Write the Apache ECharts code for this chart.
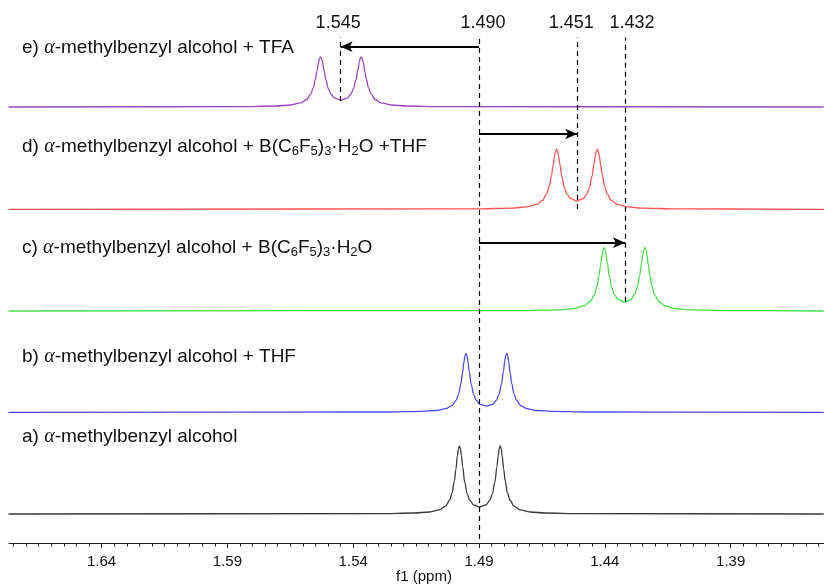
<!DOCTYPE html>
<html><head><meta charset="utf-8">
<script src="https://cdn.jsdelivr.net/npm/echarts@6/dist/echarts.min.js"></script>
<style>html,body{margin:0;padding:0;background:#fff}#c{width:824px;height:586px}</style>
</head><body><div id="c"></div>
<script>
// ---- data (ppm, intensity a.u.) ----
const ppmA = [1.677,1.5297,1.5157,1.5097,1.5057,1.5033,1.5017,1.5007,1.4998,1.4992,1.4986,1.4982,1.4978,1.4974,1.4970,1.4965,1.4957,1.4947,1.4937,1.4922,1.4897,1.4872,1.4857,1.4847,1.4837,1.4829,1.4824,1.4820,1.4816,1.4812,1.4808,1.4802,1.4796,1.4787,1.4777,1.4761,1.4737,1.4697,1.4637,1.4497,1.353];
const intA = [0,0.3,1.0,2.0,4.2,7.9,13.8,21.2,33.1,44.7,58.1,65.2,68.0,65.3,58.3,47.2,31.9,20.1,13.8,9.2,7.2,9.2,13.8,20.1,31.9,47.2,58.3,65.3,68.0,65.2,58.1,44.7,33.1,21.2,13.8,7.9,4.2,2.0,1.0,0.3,0];

const ppmB = [1.677,1.5271,1.5131,1.5071,1.5031,1.5007,1.4991,1.4981,1.4972,1.4966,1.4960,1.4956,1.4952,1.4948,1.4944,1.4939,1.4931,1.4921,1.4911,1.4896,1.4871,1.4846,1.4831,1.4821,1.4811,1.4803,1.4798,1.4794,1.4790,1.4786,1.4782,1.4776,1.4770,1.4761,1.4751,1.4735,1.4711,1.4671,1.4611,1.4471,1.353];
const intB = [0,0.3,0.9,1.8,3.6,6.8,12.0,18.4,28.7,38.8,50.4,56.5,59.0,56.6,50.6,41.0,27.7,17.5,12.0,8.0,6.2,8.0,12.0,17.5,27.7,41.0,50.6,56.6,59.0,56.5,50.4,38.8,28.7,18.4,12.0,6.8,3.6,1.8,0.9,0.3,0];

const ppmC = [1.677,1.4722,1.4582,1.4522,1.4482,1.4458,1.4442,1.4432,1.4423,1.4417,1.4411,1.4407,1.4403,1.4399,1.4395,1.4390,1.4382,1.4372,1.4362,1.4347,1.4322,1.4297,1.4282,1.4272,1.4262,1.4254,1.4249,1.4245,1.4241,1.4237,1.4233,1.4227,1.4221,1.4212,1.4202,1.4186,1.4162,1.4122,1.4062,1.3922,1.353];
const intC = [0,0.4,1.2,2.5,5.2,9.5,16.2,24.1,35.6,45.7,56.2,61.3,63.3,61.4,56.4,47.9,34.7,23.1,16.4,11.3,8.9,11.3,16.4,23.1,34.7,47.9,56.4,61.4,63.3,61.3,56.2,45.7,35.6,24.1,16.2,9.5,5.2,2.5,1.2,0.4,0];

const ppmD = [1.677,1.4911,1.4771,1.4711,1.4671,1.4647,1.4631,1.4621,1.4612,1.4606,1.4600,1.4596,1.4592,1.4588,1.4584,1.4579,1.4571,1.4561,1.4551,1.4536,1.4511,1.4486,1.4471,1.4461,1.4451,1.4443,1.4438,1.4434,1.4430,1.4426,1.4422,1.4416,1.4410,1.4401,1.4391,1.4375,1.4351,1.4311,1.4251,1.4111,1.353];
const intD = [0,0.4,1.2,2.4,4.9,9.0,15.4,22.9,33.7,43.4,53.3,58.1,60.0,58.2,53.5,45.4,32.9,21.9,15.5,10.7,8.4,10.7,15.5,21.9,32.9,45.4,53.5,58.2,60.0,58.1,53.3,43.4,33.7,22.9,15.4,9.0,4.9,2.4,1.2,0.4,0];

const ppmE = [1.677,1.5849,1.5709,1.5649,1.5609,1.5585,1.5569,1.5559,1.5550,1.5544,1.5538,1.5534,1.5530,1.5526,1.5522,1.5517,1.5509,1.5499,1.5489,1.5474,1.5449,1.5424,1.5409,1.5399,1.5389,1.5381,1.5376,1.5372,1.5368,1.5364,1.5360,1.5354,1.5348,1.5339,1.5329,1.5313,1.5289,1.5249,1.5189,1.5049,1.353];
const intE = [0,0.3,1.0,2.0,4.1,7.5,12.8,19.0,28.1,36.1,44.4,48.4,50.0,48.5,44.6,37.8,27.4,18.3,13.0,8.9,7.0,8.9,13.0,18.3,27.4,37.8,44.6,48.5,50.0,48.4,44.4,36.1,28.1,19.0,12.8,7.5,4.1,2.0,1.0,0.3,0];

const tickLabels = [1.64, 1.59, 1.54, 1.49, 1.44, 1.39];
const shiftValues = [1.545, 1.490, 1.451, 1.432];
const shiftLabels = ['1.545', '1.490', '1.451', '1.432'];
const arrowFrom = 1.490;
const arrowTargets = [1.545, 1.451, 1.432];
const traceLabels = [
  'a) {a|α}-methylbenzyl alcohol',
  'b) {a|α}-methylbenzyl alcohol + THF',
  'c) {a|α}-methylbenzyl alcohol + B(C{s|6}F{s|5}){s|3}·H{s|2}O',
  'd) {a|α}-methylbenzyl alcohol + B(C{s|6}F{s|5}){s|3}·H{s|2}O +THF',
  'e) {a|α}-methylbenzyl alcohol + TFA'
];

// ---- layout / style ----
const X_MIN = 1.3529, X_MAX = 1.6768;
const stackOffsets = [29, 130.7, 232, 333.7, 436];
const colors = ['#3a3a3a', '#4a4aff', '#45e045', '#ff5252', '#9a45c0'];
const labelY = [437, 357, 248, 146.5, 48];
const refTop = 505.5;
const refBottoms = [442, 4, 334, 241.3];
const refLabelPad = [[0,5,0,0],[0,0,0,8],[0,12,0,0],[0,0,0,14]];
const arrowRows = [496.3, 409, 300.3];

const traces = [[ppmA,intA],[ppmB,intB],[ppmC,intC],[ppmD,intD],[ppmE,intE]];

const minorTicks = [];
for (let k = 0; k <= 64; k++) minorTicks.push(+(1.355 + k * 0.005).toFixed(3));

const series = traces.map(([xs, ys], i) => ({
  type: 'line',
  xAxisIndex: 0,
  data: xs.map((x, j) => [x, ys[j] + stackOffsets[i]]),
  showSymbol: false,
  symbol: 'none',
  lineStyle: { color: colors[i], width: 1.3 },
  smooth: 0.35,
  smoothMonotone: 'x',
  silent: true,
  z: 2
}));

const mlData = [];
shiftValues.forEach((v, i) => {
  mlData.push([
    { coord: [v, refBottoms[i]], symbol: 'none',
      lineStyle: { type: [5, 4], width: 1.2, color: '#000' },
      label: { show: true, position: 'end', distance: 5, formatter: shiftLabels[i],
               fontSize: 18, fontFamily: 'Liberation Sans', color: '#111', padding: refLabelPad[i] } },
    { coord: [v, refTop], symbol: 'none' }
  ]);
});
arrowTargets.forEach((t, i) => {
  mlData.push([
    { coord: [arrowFrom, arrowRows[i]], symbol: 'none',
      lineStyle: { type: 'solid', width: 2, color: '#000' }, label: { show: false } },
    { coord: [t, arrowRows[i]], symbol: 'arrow', symbolSize: [8, 12] }
  ]);
});

series.push({
  type: 'line', data: [], silent: true,
  markLine: { silent: true, animation: false, symbol: 'none', data: mlData, z: 5 }
});

const chart = echarts.init(document.getElementById('c'));
chart.setOption({
  animation: false,
  backgroundColor: '#fff',
  grid: { left: 9, right: 0, top: 0, bottom: 43, outerBoundsMode: 'none', containLabel: false },
  xAxis: [{
    type: 'value', inverse: true, min: X_MIN, max: X_MAX,
    splitLine: { show: false },
    axisLine: { show: true, lineStyle: { color: '#222', width: 1 } },
    axisTick: { show: true, customValues: tickLabels, length: 5, lineStyle: { color: '#222' } },
    axisLabel: { show: true, customValues: tickLabels, margin: 11, fontSize: 15,
                 fontFamily: 'Liberation Sans', color: '#111' },
    name: 'f1 (ppm)', nameLocation: 'middle', nameGap: 26, nameMoveOverlap: false,
    nameTextStyle: { fontSize: 15, fontFamily: 'Liberation Sans', color: '#111', padding: [0,0,0,15] }
  }, {
    type: 'value', inverse: true, min: X_MIN, max: X_MAX, position: 'bottom', offset: 0,
    splitLine: { show: false }, axisLine: { show: false },
    axisTick: { show: true, customValues: minorTicks, length: 3.5, lineStyle: { color: '#222' } },
    axisLabel: { show: false }
  }],
  yAxis: { type: 'value', min: 0, max: 543, show: false, splitLine: { show: false } },
  series: series,
  graphic: traceLabels.map((t, i) => ({
    type: 'text', x: 22, y: labelY[i], silent: true,
    style: {
      text: t, fill: '#111', font: '19px "Liberation Sans"', lineHeight: 22,
      verticalAlign: 'middle', align: 'left',
      rich: {
        a: { fontFamily: 'Liberation Serif', fontStyle: 'italic', fontSize: 20, fill: '#111', lineHeight: 22 },
        s: { fontFamily: 'Liberation Sans', fontSize: 13, fill: '#111', lineHeight: 10, verticalAlign: 'bottom' }
      }
    }
  }))
});
</script></body></html>
